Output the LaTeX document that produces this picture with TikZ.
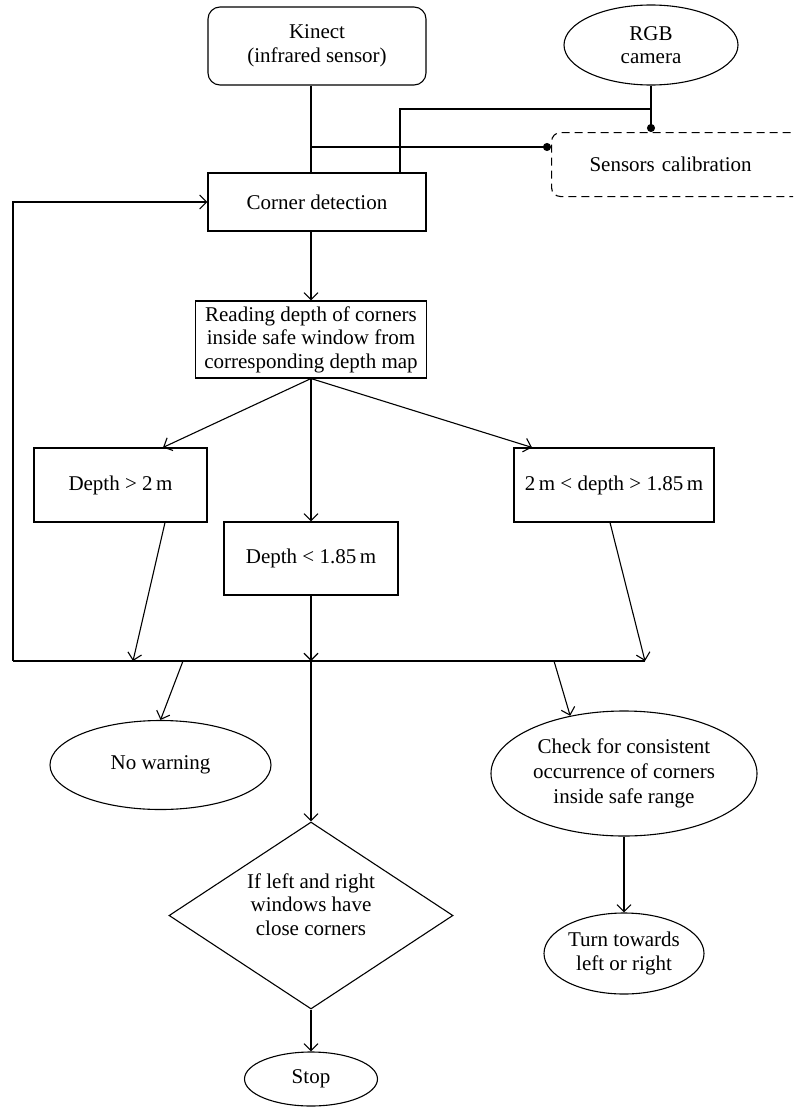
\documentclass[tikz,border=0pt]{standalone}
\usepackage{fontspec}
\setmainfont{Liberation Serif}
\usetikzlibrary{shapes.geometric,arrows.meta,calc}
\begin{document}
\begin{tikzpicture}[x=1pt,y=-1pt,
  every node/.style={font=\fontsize{21}{23.5}\selectfont, align=center, inner sep=2pt},
  line/.style={line width=1.1pt, black},
  arr/.style={line, -{Straight Barb[length=7pt,width=14pt]}},
  dotend/.style={line, -{Circle[length=8pt]}},
  box/.style={draw, line width=1.1pt, rectangle},
  rbox/.style={box, rounded corners=12pt},
  oval/.style={draw, line width=1.1pt, ellipse, inner sep=0pt},
  calibbox/.style={draw, line width=1.1pt, dash pattern=on 8pt off 5pt, rounded corners=9pt,
    minimum height=64pt, text width=224pt, inner xsep=38pt, align=left},
  decision/.style={draw, line width=1.1pt, diamond, aspect=1.52, inner sep=0pt}
]
\useasboundingbox (0,0) rectangle (793,1108);
\clip (0,0) rectangle (793,1108);

% nodes
\node[rbox, minimum width=218pt, minimum height=78pt] (kinect) at (317,46) {Kinect\\(infrared sensor)};
\node[oval, minimum width=174pt, minimum height=80pt] (rgb) at (651,45) {RGB\\camera};
\node[calibbox, anchor=north west] (calib) at (551,132) {Sensors calibration};
\node[box, minimum width=218pt, minimum height=58pt] (corner) at (317,202) {Corner detection};
\node[box, minimum width=231pt, minimum height=77pt, inner xsep=3pt] (read) at (311,339.5)
  {Reading depth of corners\\inside safe window from\\corresponding depth map};
\node[box, minimum width=173pt, minimum height=74pt] (d1) at (120.5,485) {Depth > 2\,m};
\node[box, minimum width=174pt, minimum height=73pt] (d2) at (311,558.5) {Depth < 1.85\,m};
\node[box, minimum width=200pt, minimum height=74pt] (d3) at (614,485) {2\,m < depth > 1.85\,m};
\node[oval, minimum width=221pt, minimum height=89pt] (nw) at (160.5,765) {No warning};
\node[oval, minimum width=266pt, minimum height=125pt, font=\fontsize{21}{25}\selectfont] (check) at (624,773.5)
  {Check for consistent\\occurrence of corners\\inside safe range};
\node[oval, minimum width=160pt, minimum height=81pt] (turn) at (624,953.5) {Turn towards\\left or right};
\node[decision, minimum width=284pt, minimum height=187pt, text depth=22pt] (dec) at (311,915.5)
  {If left and right\\windows have\\close corners};
\node[oval, minimum width=133pt, minimum height=54pt] (stop) at (311,1079) {Stop};

% junction coordinates
\coordinate (j1) at (311,147);
\coordinate (j2) at (651,109);
\coordinate (j3) at (400,109);
\coordinate (busL) at (13,661);
\coordinate (busR) at (645,661);
\coordinate (b1) at (133,661);
\coordinate (b2) at (311,661);
\coordinate (a1) at (183,661);
\coordinate (a3) at (554,661);

% connectors
\draw[line] ([xshift=-6pt]kinect.south) -- ([xshift=-6pt]corner.north);
\draw[dotend] (j1) -- (j1 -| calib.west);
\draw[dotend] (rgb.south) -- (rgb.south |- calib.north);
\draw[line] (j2) -- (j3) -- (j3 |- corner.north);
\draw[arr] ([xshift=-6pt]corner.south) -- (read.north);
\draw[arr] (read.south) -- ([xshift=42.5pt]d1.north);
\draw[arr] (read.south) -- (d2.north);
\draw[arr] (read.south) -- ([xshift=-82pt]d3.north);
\draw[line] (busL) -- (busR);
\draw[arr] ([xshift=44.5pt]d1.south) -- (b1);
\draw[arr] (d2.south) -- (b2);
\draw[arr] ([xshift=-4pt]d3.south) -- (busR);
\draw[arr] (busL) |- (corner.west);
\draw[arr] (a1) -- (nw.north);
\draw[arr] (b2) -- (dec.north);
\draw[arr] (a3) -- (check.133);
\draw[arr] (check.south) -- (turn.north);
\draw[arr] (dec.south) -- (stop.north);
\end{tikzpicture}
\end{document}
